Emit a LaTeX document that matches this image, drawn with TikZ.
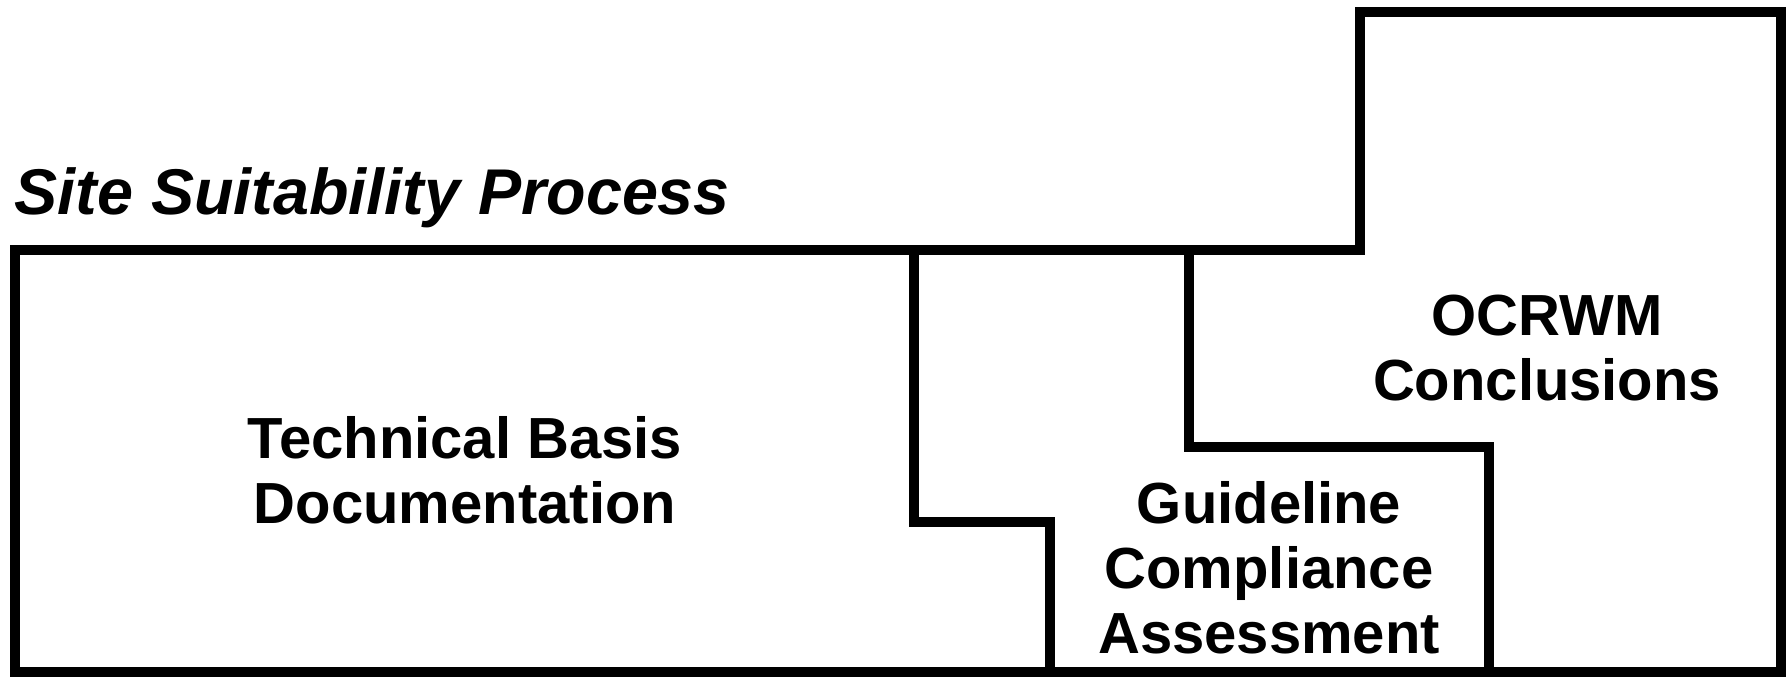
\documentclass[tikz,border=0pt]{standalone}
\usepackage{fontspec}
\setmainfont{Liberation Sans}
\usepackage{tikz}
\usetikzlibrary{positioning}

\begin{document}
\begin{tikzpicture}[
    wall/.style={line width=2.9pt, line join=miter},
    boxtext/.style={font=\fontsize{16.5}{18.5}\selectfont\bfseries, align=center, inner sep=0pt},
    headtext/.style={font=\fontsize{18.4}{20}\selectfont\bfseries\itshape, inner sep=0pt}
  ]
  \useasboundingbox (0,0) rectangle (17.88,-6.77);
  % outer outline with the raised right part
  \draw[wall] (0.15,-2.50) -- (13.60,-2.50) -- (13.60,-0.12) -- (17.81,-0.12)
    -- (17.81,-6.72) -- (0.15,-6.72) -- cycle;
  % inner steps
  \draw[wall] (9.14,-2.50) -- (9.14,-5.22) -- (10.50,-5.22) -- (10.50,-6.72);
  \draw[wall] (11.89,-2.50) -- (11.89,-4.47) -- (14.89,-4.47) -- (14.89,-6.72);
  \node[headtext, anchor=west] (process) at (0.14,-1.98) {Site Suitability Process};
  \node[boxtext] (basis) at (4.65,-4.70) {Technical Basis\\Documentation};
  \node[boxtext] (compliance) at (12.69,-5.68) {Guideline\\Compliance\\Assessment};
  \node[boxtext] (conclusions) at (15.47,-3.48) {OCRWM\\Conclusions};
\end{tikzpicture}
\end{document}
